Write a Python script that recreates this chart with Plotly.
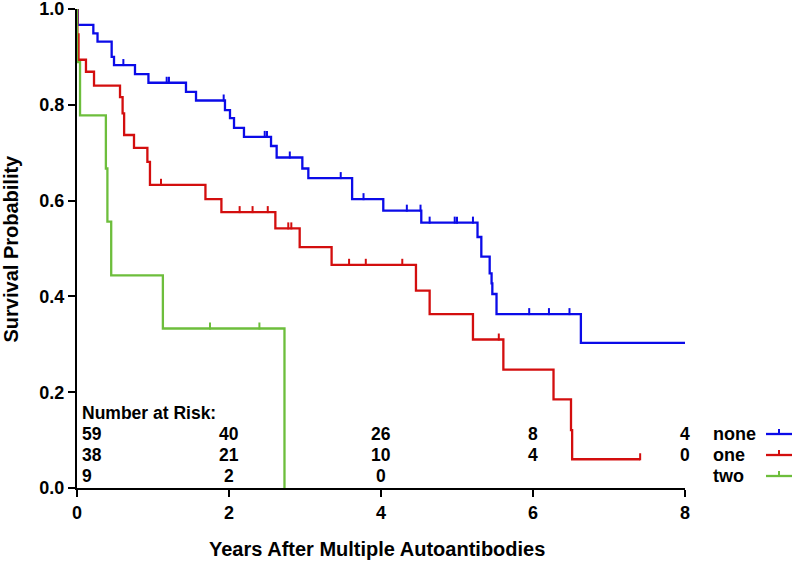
import plotly.graph_objects as go

# ---------------- data ----------------
groups = ["none", "one", "two"]
colors = {"none": "#0B0BE8", "one": "#D30E0E", "two": "#6DBE3C"}

none_t = [0.01, 0.215, 0.27, 0.456, 0.487, 0.763, 0.94, 1.434, 1.566, 1.947, 2.013, 2.066,
          2.197, 2.553, 2.627, 2.965, 3.044, 3.62, 4.03, 4.53, 5.27, 5.32, 5.43, 5.455,
          5.465, 5.52, 6.63]
none_s = [0.967, 0.949, 0.932, 0.900, 0.883, 0.864, 0.846, 0.827, 0.809, 0.789, 0.772, 0.752,
          0.733, 0.714, 0.690, 0.667, 0.647, 0.603, 0.579, 0.554, 0.524, 0.483, 0.448, 0.427,
          0.405, 0.363, 0.303]
none_cens = [0.61, 1.18, 1.21, 1.93, 2.47, 2.50, 2.80, 3.47, 3.77, 4.34, 4.52, 4.64, 4.97,
             5.00, 5.21, 5.95, 6.21, 6.48]
none_end = 8.0

one_t = [0.005, 0.02, 0.118, 0.224, 0.566, 0.60, 0.62, 0.75, 0.926, 0.96, 1.69, 1.90, 2.61,
         2.93, 3.35, 4.46, 4.64, 5.21, 5.61, 6.27, 6.50, 6.515]
one_s = [0.947, 0.894, 0.869, 0.840, 0.816, 0.782, 0.737, 0.710, 0.681, 0.633, 0.603, 0.576,
         0.542, 0.503, 0.466, 0.412, 0.363, 0.310, 0.247, 0.185, 0.121, 0.060]
one_cens = [1.105, 2.14, 2.31, 2.51, 2.78, 2.82, 3.58, 3.80, 4.28, 5.55, 7.41]
one_end = 7.41

two_t = [0.0, 0.04, 0.38, 0.40, 0.45, 1.13, 2.73]
two_s = [0.889, 0.778, 0.667, 0.556, 0.444, 0.333, 0.0]
two_cens = [1.75, 2.40]
two_end = 2.73

risk_times = [0, 2, 4, 6, 8]
risk_none = [59, 40, 26, 8, 4]
risk_one = [38, 21, 10, 4, 0]
risk_two = [9, 2, 0]

x_ticks = [0, 2, 4, 6, 8]
y_ticks = [0.0, 0.2, 0.4, 0.6, 0.8, 1.0]

# ---------------- layout constants ----------------
W, H = 794, 563
ML, MR, MT, MB = 77, 109, 9, 75
PW, PH = W - ML - MR, H - MT - MB
FONT = "Liberation Sans, Arial, sans-serif"
px_y = 1.0 / PH  # one pixel in y data units

series = {
    "none": (none_t, none_s, none_cens, none_end),
    "one": (one_t, one_s, one_cens, one_end),
    "two": (two_t, two_s, two_cens, two_end),
}


def surv_at(ts, ss, t):
    s = 1.0
    for ti, si in zip(ts, ss):
        if ti <= t:
            s = si
    return s


fig = go.Figure()
for g in groups:
    ts, ss, cens, end = series[g]
    xs = [0.0] + ts + [end]
    ys = [1.0] + ss + [ss[-1]]
    fig.add_trace(go.Scatter(x=xs, y=ys, mode="lines", line=dict(color=colors[g], width=2.3, shape="hv"),
                             showlegend=False, hoverinfo="skip"))
    cy = [surv_at(ts, ss, c) + 2.5 * px_y for c in cens]
    fig.add_trace(go.Scatter(x=cens, y=cy, mode="markers", cliponaxis=False,
                             marker=dict(symbol="line-ns", size=5, line=dict(color=colors[g], width=2)),
                             showlegend=False, hoverinfo="skip"))

annotations = []
header_y = (PH + MT - 413) * px_y
row_y0 = (PH + MT - 434) * px_y
row_gap = 21 * px_y
annotations.append(dict(x=risk_times[0], y=header_y, xref="x", yref="y", text="<b>Number at Risk:</b>",
                        showarrow=False, xanchor="left", yanchor="middle", xshift=3,
                        font=dict(family=FONT, size=17.5, color="black")))
risk_rows = [risk_none, risk_one, risk_two]
for r, (g, vals) in enumerate(zip(groups, risk_rows)):
    yy = row_y0 - r * row_gap
    for t, v in zip(risk_times, vals):
        annotations.append(dict(x=t, y=yy, xref="x", yref="y", text=f"<b>{v}</b>", showarrow=False,
                                xanchor="left" if t == 0 else "center", yanchor="middle",
                                xshift=3 if t == 0 else 0,
                                font=dict(family=FONT, size=17.5, color="black")))
    # legend entry: text then line sample
    annotations.append(dict(x=1, y=yy, xref="paper", yref="y", text=f"<b>{g}</b>", showarrow=False,
                            xanchor="left", yanchor="middle", xshift=26,
                            font=dict(family=FONT, size=18, color="black")))

shapes = []
for r, g in enumerate(groups):
    yy = row_y0 - r * row_gap
    x0 = 1 + (766 - ML - PW) / PW
    x1 = 1 + (792 - ML - PW) / PW
    shapes.append(dict(type="line", xref="paper", yref="y", x0=x0, x1=x1, y0=yy, y1=yy,
                       line=dict(color=colors[g], width=2.3)))
    xm = (x0 + x1) / 2
    shapes.append(dict(type="line", xref="paper", yref="y", x0=xm, x1=xm, y0=yy, y1=yy + 5 * px_y,
                       line=dict(color=colors[g], width=2)))

# axis titles
annotations.append(dict(x=0.494, y=0, xref="paper", yref="paper", text="<b>Years After Multiple Autoantibodies</b>",
                        showarrow=False, xanchor="center", yanchor="middle", yshift=-61,
                        font=dict(family=FONT, size=20, color="black")))
annotations.append(dict(x=0, y=0.5, xref="paper", yref="paper", text="<b>Survival Probability</b>",
                        showarrow=False, xanchor="center", yanchor="middle", xshift=-67, textangle=-90,
                        font=dict(family=FONT, size=20, color="black")))

axis_common = dict(showline=True, linecolor="black", linewidth=2, ticks="outside", ticklen=7,
                   tickwidth=2, tickcolor="black", showgrid=False, zeroline=False,
                   automargin=False, ticklabeloverflow="allow",
                   tickfont=dict(family=FONT, size=18, color="black", weight="bold"))

fig.update_layout(
    width=W, height=H,
    margin=dict(l=ML, r=MR, t=MT, b=MB, autoexpand=False),
    plot_bgcolor="white", paper_bgcolor="white",
    xaxis=dict(range=[0, 8], tickvals=x_ticks, ticktext=[str(v) for v in x_ticks], **axis_common),
    yaxis=dict(range=[0, 1.0], tickvals=y_ticks, ticktext=[f"{v:.1f}" for v in y_ticks], **axis_common),
    annotations=annotations,
    shapes=shapes,
    showlegend=False,
)

fig.write_html("out.html", config={"displayModeBar": False, "staticPlot": True},
               post_script="document.body.style.margin='0';document.body.style.overflow='hidden';")
